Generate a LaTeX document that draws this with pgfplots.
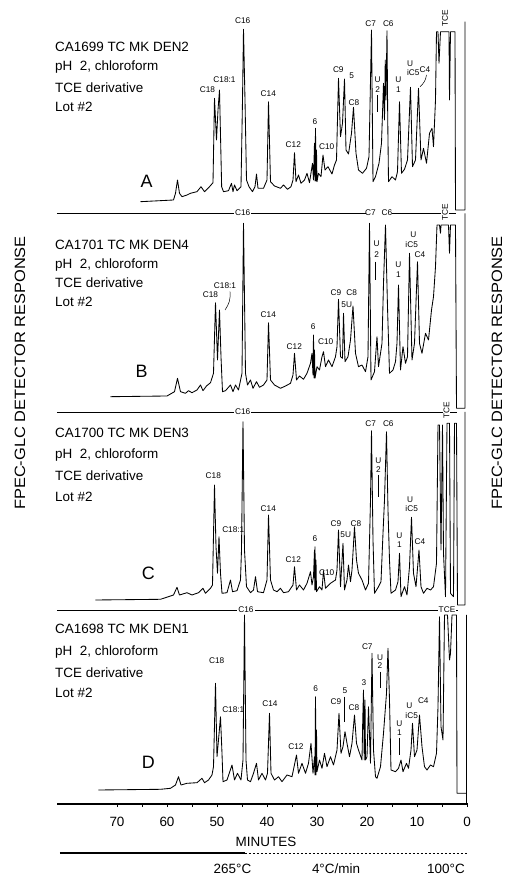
\documentclass[border=0pt]{standalone}
\usepackage{pgfplots}
\pgfplotsset{compat=1.18}
\usepackage{fontspec}
\setmainfont{Liberation Sans}
\newcommand{\pk}{\fontsize{8.3}{9}\selectfont}
\newcommand{\ttl}{\fontsize{13.5}{14}\selectfont}
\newcommand{\plab}[3]{\node[font=\pk,inner sep=0.5pt] at (axis cs:#1,#2) {#3};}
\newcommand{\slab}[3]{\node[font=\pk,inner sep=1.2pt,fill=white] at (axis cs:#1,#2) {#3};}
\newcommand{\ulab}[4]{\node[font=\pk,inner sep=0pt] at (axis cs:#1,#2) {U};\node[font=\pk,inner sep=0pt] at (axis cs:#1,#3) {#4};}
\newcommand{\lead}[3]{\draw[black,line width=0.6bp] (axis cs:#1,#2) -- (axis cs:#1,#3);}
\newcommand{\ptitle}[5]{%
  \node[font=\ttl,anchor=west,inner sep=0pt] at (axis cs:82.4,#1) {#2};
  \node[font=\ttl,anchor=west,inner sep=0pt] at (axis cs:82.4,#3) {pH\ \ 2, chloroform};
  \node[font=\ttl,anchor=west,inner sep=0pt] at (axis cs:82.4,#4) {TCE derivative};
  \node[font=\ttl,anchor=west,inner sep=0pt] at (axis cs:82.4,#5) {Lot \#2};}
\begin{document}
\begin{tikzpicture}
\path[use as bounding box] (-57bp,-71bp) rectangle (449bp,804bp);
\begin{axis}[
  scale only axis, width=411bp, height=804bp,
  xmin=-0.2, xmax=82, x dir=reverse,
  ymin=-804, ymax=0,
  axis x line*=bottom, axis y line=none,
  x axis line style={-, line width=1.1bp},
  xtick={0,10,20,30,40,50,60,70},
  xticklabels={0,10,20,30,40,50,60,70},
  minor xtick={5,15,25,35,45,55,65},
  tick align=outside, major tick length=3bp, minor tick length=3bp,
  every tick/.style={black, line width=0.8bp},
  xticklabel style={font=\fontsize{13.5}{14}\selectfont, yshift=-7bp},
  clip=false,
]
% ---------------- Panel A ----------------
\addplot[black, line width=0.85bp, line join=round] coordinates {
(65.3,-201.7) (58.7,-200) (58.3,-193.3) (57.9,-180) (57.5,-193.3) (57.0,-196.7) (56.0,-195) (55.3,-193.3) (54.0,-191.7) (53.2,-186.7) (52.5,-191.7) (51.5,-186.7) (50.8,-182.7) (50.5,-98.3) (50.1,-140) (49.8,-110) (49.5,-90) (49.07,-186.7) (48.7,-191.7) (47.7,-190.7) (47.1,-183.3) (46.8,-191.7) (46.5,-185) (46.0,-190.7) (45.2,-186.7) (44.9,-100) (44.7,-29.3) (44.4,-100) (44.1,-180) (43.6,-186.7) (42.9,-191.7) (42.4,-186.7) (42.1,-174) (41.8,-188.3) (40.7,-188.3) (40.0,-180) (39.7,-101.7) (39.3,-181.7) (38.5,-186) (37.3,-188.3) (36.7,-185) (35.9,-189.3) (35.2,-186.7) (34.8,-180) (34.5,-152.7) (34.2,-181.7) (33.7,-175) (33.2,-183.3) (32.5,-180) (32.0,-173.3) (31.5,-182.7) (30.9,-163.3) (30.7,-180) (30.5,-143.3) (30.4,-181) (30.3,-128.3) (30.2,-181) (30.1,-150) (30.0,-181.7) (29.7,-173.3) (29.2,-176.7) (28.8,-155) (28.4,-170) (27.8,-166.7) (27.0,-174) (26.5,-165) (26.1,-160) (25.7,-78.3) (25.3,-136.7) (24.9,-123.3) (24.5,-79) (24.2,-150) (23.7,-154) (23.1,-133.3) (22.7,-107.3) (22.2,-153.3) (21.7,-170) (20.9,-173.3) (20.1,-168.3) (19.6,-156.7) (19.1,-30) (18.8,-181.7) (18.3,-176.7) (17.6,-163.3) (17.1,-143.3) (16.7,-83.3) (16.5,-120) (16.35,-60) (16.2,-100) (16.0,-30.7) (15.85,-120) (15.7,-181.7) (15.0,-176.7) (14.3,-180) (13.9,-171.7) (13.5,-101.7) (13.1,-173.3) (12.5,-169.3) (11.9,-160) (11.3,-87.3) (10.9,-166.7) (10.3,-160) (9.7,-88.3) (9.2,-160) (8.7,-148.3) (8.1,-163.3) (7.5,-133.3) (7.0,-128.3) (6.7,-146.7) (6.3,-100) (6.1,-31.7) (5.8,-31.7) (5.6,-63.3) (5.3,-31.7) (3.6,-31.7) (3.5,-100) (3.3,-31.7) (2.4,-31.7) (2.3,-210) (0.4,-210) (0.4,-21.7)
};
% ---------------- Panel B ----------------
\addplot[black, line width=0.85bp, line join=round] coordinates {
(71.3,-396.7) (60.0,-396) (58.5,-391.7) (57.9,-378.3) (57.3,-391.7) (56.3,-393.3) (55.7,-390.7) (55.0,-392.7) (54.0,-390) (53.3,-385) (52.8,-390.7) (52.1,-386) (51.3,-382.7) (50.7,-373.3) (50.3,-302.7) (49.9,-360) (49.5,-310) (49.2,-356.7) (48.9,-391.7) (48.3,-390.7) (47.3,-385) (46.8,-391.7) (46.3,-385) (45.7,-390) (45.0,-373.3) (44.7,-223.3) (44.3,-373.3) (43.9,-385) (43.3,-380) (42.8,-388.3) (42.1,-381.7) (41.5,-387.3) (40.7,-385) (40.0,-380) (39.7,-322.7) (39.3,-380) (38.5,-385) (37.3,-388.3) (36.3,-386) (35.3,-383.3) (34.8,-375) (34.5,-353.3) (34.1,-380) (33.5,-376) (32.7,-379.3) (32.0,-373.3) (31.3,-363.3) (31.0,-353.3) (30.8,-375) (30.7,-335) (30.6,-378) (30.5,-350) (30.4,-378.3) (30.0,-366.7) (29.5,-370) (29.0,-356.7) (28.7,-351.7) (28.3,-366.7) (27.7,-360) (27.0,-366.7) (26.3,-356.7) (26.0,-346.7) (25.7,-299.3) (25.3,-356.7) (24.9,-358.3) (24.7,-313.3) (24.4,-361.7) (23.8,-356.7) (23.3,-340) (22.8,-306) (22.3,-353.3) (21.7,-366.7) (21.0,-365) (20.3,-371.7) (19.8,-356.7) (19.5,-223.3) (19.2,-380) (18.5,-371.7) (18.0,-336.7) (17.7,-366.7) (17.0,-343.3) (16.7,-283.3) (16.3,-225) (15.9,-306.7) (15.5,-373.3) (14.8,-370) (14.3,-361.7) (14.0,-343.3) (13.7,-285) (13.3,-370) (12.8,-346.7) (12.3,-363.3) (11.9,-356.7) (11.5,-253.3) (11.0,-360) (10.5,-343.3) (9.9,-261.7) (9.5,-343.3) (9.0,-353.3) (8.3,-333.3) (7.7,-340) (7.1,-310) (6.7,-296.7) (6.3,-266.7) (6.0,-225) (5.5,-225) (5.3,-233.3) (5.2,-225) (3.7,-225) (3.5,-253.3) (3.3,-225) (2.3,-225) (2.1,-408.3) (0.4,-408.3) (0.4,-213.3)
};
% ---------------- Panel C ----------------
\addplot[black, line width=0.85bp, line join=round] coordinates {
(74.3,-600) (61.3,-599.3) (58.7,-595) (58.0,-587.3) (57.5,-595) (56.0,-592.7) (55.0,-595) (53.7,-592.7) (52.8,-588.3) (52.3,-593.3) (51.3,-588.3) (50.9,-585) (50.5,-485) (50.2,-546.7) (49.9,-573.3) (49.6,-536.7) (49.3,-573.3) (49.0,-593.3) (48.0,-592.7) (47.3,-580) (46.9,-591.7) (46.0,-590.7) (45.3,-580) (45.1,-550) (44.8,-421.7) (44.5,-550) (44.1,-586.7) (43.3,-592.7) (42.7,-590) (42.3,-576.7) (41.9,-591.7) (40.7,-592.7) (40.0,-580) (39.7,-515) (39.3,-580) (38.7,-590) (38.0,-591.7) (37.3,-588.3) (36.7,-592.7) (35.7,-591.7) (34.8,-585) (34.5,-566.7) (34.1,-590) (33.5,-585) (32.7,-590) (32.0,-583.3) (31.3,-571.7) (31.0,-585) (30.7,-576.7) (30.5,-550) (30.45,-590) (30.4,-546.7) (30.3,-590) (30.2,-560) (30.1,-591.7) (29.5,-586.7) (29.0,-590) (28.7,-570.7) (28.3,-588.3) (27.3,-583.3) (26.3,-580) (26.0,-570) (25.7,-530) (25.3,-586.7) (24.8,-543.3) (24.5,-590) (24.0,-580) (23.7,-565) (23.3,-581.7) (23.0,-570) (22.5,-526.7) (22.1,-560) (21.7,-573.3) (21.0,-580) (20.3,-590) (19.7,-583.3) (19.3,-500) (19.1,-430.7) (18.8,-540) (18.5,-593.3) (17.7,-586.7) (17.2,-581.7) (16.8,-533.3) (16.5,-500) (16.1,-431.7) (15.8,-510) (15.5,-560) (15.2,-593.3) (14.3,-590) (13.8,-581.7) (13.5,-553.3) (13.2,-596.7) (12.5,-586.7) (12.0,-595) (11.5,-566.7) (11.1,-517.3) (10.7,-573.3) (10.2,-586.7) (9.6,-550) (9.2,-586.7) (8.7,-593.3) (8.0,-588.3) (7.3,-590) (6.7,-586.7) (6.1,-563.3) (5.8,-425) (5.5,-425) (5.2,-550) (4.9,-425) (4.7,-553.3) (4.3,-596.7) (4.0,-423.3) (3.5,-423.3) (3.3,-593.3) (2.7,-596.7) (2.5,-423.3) (2.1,-423.3) (1.9,-605) (0.4,-605) (0.4,-412)
};
% ---------------- Panel D ----------------
\addplot[black, line width=0.85bp, line join=round] coordinates {
(73.7,-790) (61.3,-789.3) (59.3,-788.3) (58.3,-785) (57.7,-776.7) (57.2,-785) (56.0,-783.3) (54.0,-782.7) (53.0,-778.3) (52.5,-782.7) (51.7,-780) (51.0,-775) (50.7,-766.7) (50.3,-683.3) (50.0,-756.7) (49.7,-740) (49.3,-716.7) (49.0,-753.3) (48.8,-781.7) (48.0,-780) (47.0,-765) (46.5,-780) (45.9,-773.3) (45.2,-780) (44.8,-760) (44.5,-615) (44.2,-760) (43.9,-780) (43.3,-781.7) (42.7,-773.3) (42.1,-763.3) (41.7,-780) (41.0,-773.3) (40.3,-780) (39.9,-773.3) (39.5,-713.3) (39.2,-773.3) (38.5,-780) (37.7,-776.7) (37.0,-781.7) (36.0,-775) (35.0,-776.7) (34.1,-755) (33.7,-773.3) (33.0,-763.3) (32.3,-773.3) (31.7,-763.3) (31.2,-743.3) (30.8,-773.3) (30.5,-756.7) (30.4,-775) (30.3,-696.7) (30.2,-775) (30.1,-730) (30.0,-771.7) (29.5,-760) (29.0,-768.3) (28.5,-753.3) (28.0,-766.7) (27.3,-756.7) (26.7,-765) (26.0,-750) (25.6,-713.3) (25.2,-753.3) (24.8,-746.7) (24.4,-731.7) (24.0,-743.3) (23.5,-756.7) (23.0,-743.3) (22.5,-715) (22.1,-743.3) (21.7,-750) (21.0,-760) (20.85,-720) (20.7,-690) (20.55,-760) (20.4,-700) (20.3,-760) (20.0,-756.7) (19.7,-706.7) (19.3,-763.3) (19.0,-653.3) (18.7,-750) (18.3,-776.7) (18.0,-778.3) (17.3,-766.7) (16.7,-733.3) (16.1,-693.3) (15.8,-648.3) (15.5,-700) (15.2,-770) (14.3,-771.7) (13.7,-768.3) (13.2,-760) (12.8,-771.7) (12.1,-763.3) (11.7,-768.3) (11.2,-750) (10.9,-723.3) (10.5,-756.7) (10.0,-750) (9.5,-715) (9.0,-746.7) (8.5,-766.7) (8.0,-770) (7.3,-765) (6.7,-766.7) (6.1,-753.3) (5.8,-706.7) (5.5,-616.7) (5.2,-726.7) (4.8,-740) (4.5,-615) (3.9,-615) (3.5,-660) (3.3,-653.3) (3.0,-615) (2.1,-615) (2.0,-793.3) (0.1,-793.3) (0.1,-615)
};
\addplot[black, line width=0.85bp] coordinates {(0.1,-793.3) (0.1,-804)};
% ---------------- separators ----------------
\addplot[black, line width=0.8bp] coordinates {(82,-213) (2.2,-213)};
\addplot[black, line width=0.8bp] coordinates {(82,-412) (2.0,-412)};
\addplot[black, line width=0.8bp] coordinates {(82,-610) (1.9,-610)};
% temperature programme
\addplot[black, line width=1.1bp] coordinates {(81.4,-853) (44.4,-853)};
\addplot[black, line width=0.6bp, dash pattern=on 2.5bp off 1.5bp] coordinates {(44.4,-853) (0,-853)};

% ---- separator labels ----
\node[fill=white,minimum width=26bp,minimum height=7bp,inner sep=0pt] at (axis cs:17.65,-213) {};
\slab{44.86}{-213}{C16} \plab{19.3}{-213}{C7} \plab{16.0}{-213}{C6}
\node[font=\pk,inner sep=1pt,fill=white,rotate=90] at (axis cs:4.4,-212) {TCE};
\slab{44.86}{-412}{C16}
\node[font=\pk,inner sep=1pt,fill=white,rotate=90] at (axis cs:4.1,-410) {TCE};
\slab{44.2}{-609.5}{C16} \slab{4.0}{-609.5}{TCE}
\node[font=\pk,inner sep=1pt,rotate=90] at (axis cs:4.4,-18.3) {TCE};

% ---- titles ----
\ptitle{-46.7}{CA1699 TC MK DEN2}{-66.7}{-87.3}{-107.3}
\ptitle{-245}{CA1701 TC MK DEN4}{-265}{-283}{-302}
\ptitle{-433.3}{CA1700 TC MK DEN3}{-455}{-476}{-496.7}
\ptitle{-629.3}{CA1698 TC MK DEN1}{-651.7}{-672.7}{-692.7}
\node[font=\fontsize{18}{18}\selectfont] at (axis cs:64.06,-181.7) {A};
\node[font=\fontsize{18}{18}\selectfont] at (axis cs:65.06,-371.7) {B};
\node[font=\fontsize{18}{18}\selectfont] at (axis cs:63.74,-573.3) {C};
\node[font=\fontsize{18}{18}\selectfont] at (axis cs:63.74,-762.7) {D};

% ---- peak labels A ----
\plab{44.86}{-20.7}{C16} \plab{48.5}{-80}{C18:1} \plab{51.9}{-90}{C18}
\plab{39.74}{-93.3}{C14} \plab{34.74}{-145}{C12} \plab{30.4}{-121.7}{6}
\plab{28.06}{-146.7}{C10} \plab{25.74}{-70}{C9} \plab{23.06}{-76}{5}
\plab{22.6}{-102.7}{C8} \plab{19.26}{-23.3}{C7} \plab{15.74}{-23.3}{C6}
\ulab{17.86}{-79.3}{-89.3}{2} \lead{17.86}{-95}{-111.7}
\ulab{13.74}{-80}{-89.3}{1}
\plab{11.4}{-63.3}{U} \plab{10.74}{-72.7}{iC5} \plab{8.4}{-70}{C4}
\draw[black,line width=0.5bp] (axis cs:8.1,-75) to[bend left=20] (axis cs:9.4,-86.7);
% ---- peak labels B ----
\plab{51.3}{-295}{C18} \plab{48.4}{-286}{C18:1}
\draw[black,line width=0.5bp] (axis cs:47.4,-291.7) to[bend left=20] (axis cs:48.4,-310);
\plab{39.74}{-315}{C14} \plab{34.54}{-346.7}{C12} \plab{30.74}{-326.7}{6}
\plab{28.26}{-341.7}{C10} \plab{26.2}{-292.7}{C9} \plab{23.06}{-292.7}{C8}
\plab{24.06}{-305}{5U}
\ulab{18.06}{-243.3}{-255}{2} \lead{18.3}{-261.7}{-280}
\ulab{13.74}{-265}{-275}{1}
\plab{10.74}{-235}{U} \plab{11.06}{-245}{iC5} \plab{9.4}{-255}{C4}
% ---- peak labels C ----
\plab{50.74}{-476}{C18} \plab{46.74}{-529.3}{C18:1} \plab{39.74}{-508.3}{C14}
\plab{34.74}{-559.3}{C12} \plab{30.4}{-538.3}{6} \plab{28.06}{-572.3}{C10}
\plab{26.2}{-523.3}{C9} \plab{22.2}{-523.3}{C8} \plab{24.26}{-535}{5U}
\plab{19.26}{-423.3}{C7} \plab{15.74}{-423.3}{C6}
\ulab{17.74}{-461}{-470}{2} \lead{17.74}{-475}{-496.7}
\ulab{13.54}{-536}{-545}{1}
\plab{11.4}{-499.3}{U} \plab{11.06}{-508.3}{iC5} \plab{9.4}{-541.7}{C4}
% ---- peak labels D ----
\plab{50.06}{-660.7}{C18} \plab{46.74}{-710}{C18:1} \plab{39.4}{-703.3}{C14}
\plab{34.2}{-746.7}{C12} \plab{30.26}{-688.3}{6} \plab{26.2}{-701.7}{C9}
\plab{24.4}{-690.7}{5} \lead{24.46}{-696.7}{-721.7}
\plab{22.6}{-707.3}{C8} \plab{20.6}{-682.7}{3} \plab{19.94}{-646.7}{C7}
\ulab{17.4}{-657.3}{-666}{2} \lead{17.4}{-671.7}{-688.3}
\ulab{13.54}{-724}{-732.7}{1} \lead{13.54}{-738}{-755}
\plab{11.54}{-706}{U} \plab{11.06}{-716}{iC5} \plab{8.74}{-700.7}{C4}

% ---- side labels ----
\node[font=\fontsize{15}{15}\selectfont,rotate=90] at (axis cs:89.4,-373) {\scalebox{1.1}[1]{FPEC-GLC DETECTOR RESPONSE}};
\node[font=\fontsize{15}{15}\selectfont,rotate=90] at (axis cs:-6,-373) {\scalebox{1.1}[1]{FPEC-GLC DETECTOR RESPONSE}};
% ---- bottom texts ----
\node[font=\fontsize{13.5}{14}\selectfont] at (axis cs:40.2,-842) {MINUTES};
\node[font=\fontsize{13.5}{14}\selectfont,anchor=base,inner sep=0pt] at (axis cs:46.9,-873.5) {265°C};
\node[font=\fontsize{13.5}{14}\selectfont,anchor=base,inner sep=0pt] at (axis cs:26.2,-873.5) {4°C/min};
\node[font=\fontsize{13.5}{14}\selectfont,anchor=base,inner sep=0pt] at (axis cs:4.2,-873.5) {100°C};
\end{axis}
\end{tikzpicture}
\end{document}
